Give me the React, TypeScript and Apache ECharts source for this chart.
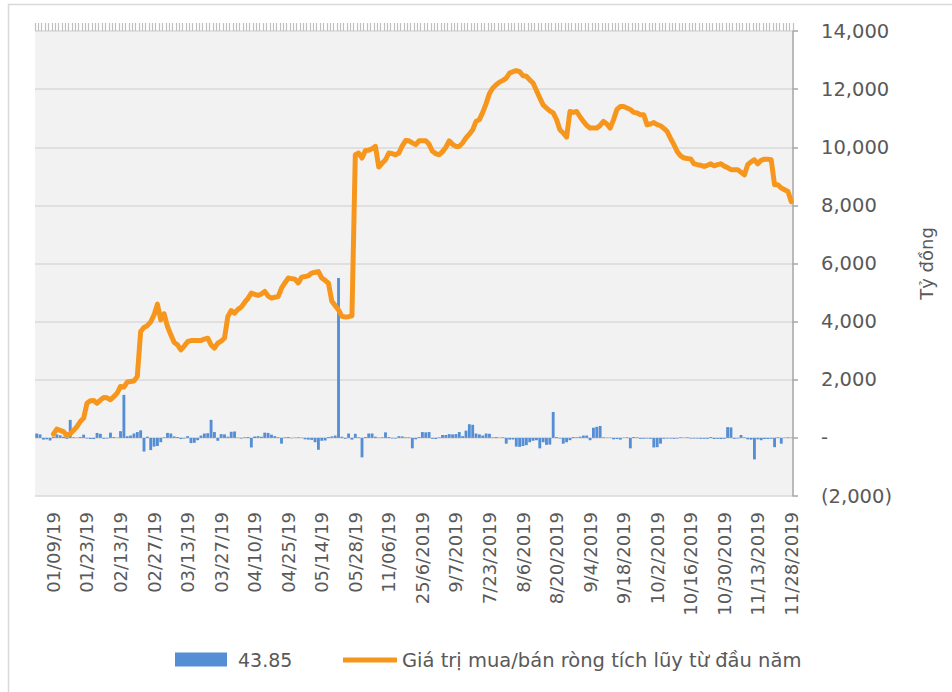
import React, { useEffect, useRef } from "react";
import * as echarts from "echarts";

const tickLabels = [
  "01/09/19", "01/23/19", "02/13/19", "02/27/19", "03/13/19", "03/27/19",
  "04/10/19", "04/25/19", "05/14/19", "05/28/19", "11/06/19", "25/6/2019",
  "9/7/2019", "7/23/2019", "8/6/2019", "8/20/2019", "9/4/2019", "9/18/2019",
  "10/2/2019", "10/16/2019", "10/30/2019", "11/13/2019", "11/28/2019",
];
const firstLabelIndex = 5;
const labelStep = 10;

// Daily net buy/sell value (tỷ đồng), one per trading day
const dailyValues = [
  150, 120, -60, -50, -90, 30, 120, 90, 40, -30,
  620, 20, 10, 30, 110, -20, -40, -40, 170, 140,
  -30, -20, 180, 30, 10, 230, 1480, 60, 80, 150,
  200, 260, -470, 40, -420, -300, -280, -150, 20, 170,
  150, 50, 30, -40, -20, 60, -180, -170, -80, 80,
  150, 160, 620, 200, -100, 130, 120, 40, 210, 220,
  10, -20, 20, 30, -330, 50, 60, 40, 180, 170,
  110, 60, 20, -200, 20, 30, -10, 10, 20, 10,
  -50, -60, -70, -150, -410, -100, -90, 30, 50, 80,
  5500, 40, -30, 150, -60, 140, 20, -670, 30, 150,
  150, 40, 10, 20, 190, 30, -20, -20, 60, 50,
  20, 20, -360, -50, 30, 200, 190, 200, -30, -40,
  20, 100, 100, 130, 120, 130, 200, 60, 250, 470,
  450, 150, 120, 80, 150, 140, 20, 30, 10, 20,
  -200, -60, -60, -300, -310, -280, -250, -150, -100, -80,
  -360, -150, -240, -230, 890, 30, -20, -200, -150, -80,
  30, 20, 40, 80, 80, -80, 350, 380, 410, 20,
  10, 10, -50, -40, -60, 10, 20, -360, 30, 20,
  -30, -30, -20, -30, -330, -320, -200, -30, -20, -20,
  -30, -20, 20, 10, 20, -20, -20, -20, -30, -30,
  -30, 30, -40, -30, -40, -30, 370, 360, -30, -20,
  100, 20, -50, -60, -740, -50, -80, -40, -40, -30,
  -320, 20, -200, 10, 20, 10,
];

// Cumulative net value since start of year (tỷ đồng)
const cumulativeValues = [
  null, null, null, null, null,
  130, 300, 260, 217, 80,
  140, 260, 390, 560, 680,
  1190, 1280, 1285, 1190, 1300,
  1390, 1380, 1310, 1420, 1540,
  1770, 1745, 1920, 1940, 1960,
  2110, 3660, 3800, 3860, 3990,
  4230, 4600, 4060, 4270, 3830,
  3550, 3280, 3200, 3030, 3160,
  3310, 3350, 3350, 3350, 3350,
  3400, 3430, 3200, 3090, 3260,
  3330, 3430, 4180, 4380, 4290,
  4420, 4500, 4660, 4800, 4980,
  4940, 4900, 4950, 5040, 4880,
  4810, 4840, 4860, 5150, 5330,
  5500, 5480, 5460, 5330, 5530,
  5550, 5580, 5670, 5700, 5720,
  5500, 5420, 5320, 4700, 4550,
  4400, 4180, 4160, 4170, 4200,
  9740, 9800, 9630, 9890, 9900,
  9950, 10030, 9320, 9450, 9570,
  9800, 9780, 9740, 9800, 10050,
  10230, 10220, 10150, 10090, 10220,
  10220, 10220, 10100, 9860, 9780,
  9740, 9850, 10000, 10220, 10100,
  10030, 10030, 10150, 10320, 10450,
  10600, 10890, 10950, 11200, 11500,
  11850, 12040, 12150, 12240, 12300,
  12380, 12550, 12600, 12640, 12600,
  12460, 12440, 12320, 12210, 11950,
  11700, 11460, 11350, 11250, 11180,
  10950, 10600, 10490, 10350, 11230,
  11200, 11230, 11050, 10890, 10750,
  10660, 10660, 10660, 10750, 10890,
  10800, 10660, 10950, 11300, 11400,
  11400, 11350, 11300, 11200, 11180,
  11120, 11120, 10770, 10800, 10850,
  10780, 10740, 10650, 10540, 10300,
  10090, 9850, 9700, 9630, 9610,
  9600, 9430, 9400, 9380, 9340,
  9380, 9430, 9360, 9400, 9430,
  9350, 9300, 9230, 9230, 9230,
  9140, 9050, 9400, 9500, 9570,
  9430, 9550, 9590, 9590, 9570,
  8710, 8710, 8600, 8540, 8480,
  8130,
];

const barName = "43.85";
const lineName = "Giá trị mua/bán ròng tích lũy từ đầu năm";
const yAxisName = "Tỷ đồng";

const categories = dailyValues.map((_, i) => {
  const k = (i - firstLabelIndex) / labelStep;
  return i >= firstLabelIndex && Number.isInteger(k) && k < tickLabels.length
    ? tickLabels[k]
    : "d" + i;
});

const FONT = "DejaVu Sans";
const TEXT = "#595959";

export default function App() {
  const ref = useRef<HTMLDivElement>(null);
  useEffect(() => {
    document.body.style.margin = "0";
    const chart = echarts.init(ref.current!, null, { renderer: "svg" });
    chart.setOption({
      animation: false,
      backgroundColor: "#ffffff",
      graphic: [
        {
          type: "rect",
          shape: { x: 8.5, y: 4.5, width: 960, height: 720 },
          style: { fill: "none", stroke: "#d9d9d9", lineWidth: 1.5 },
          silent: true,
        },
      ],
      grid: {
        left: 35,
        right: 159,
        top: 31,
        bottom: 196,
        show: true,
        backgroundColor: "#f2f2f2",
        borderWidth: 0,
      },
      legend: [
        {
          data: [barName],
          left: 175,
          top: 650,
          padding: 0,
          itemWidth: 52,
          itemHeight: 14,
          icon: "rect",
          textStyle: { fontFamily: FONT, fontSize: 19, color: TEXT, padding: [0, 0, 0, 6] },
        },
        {
          data: [lineName],
          left: 343,
          top: 650,
          padding: 0,
          itemWidth: 54,
          itemHeight: 5,
          icon: "rect",
          textStyle: { fontFamily: FONT, fontSize: 19.5, color: TEXT },
        },
      ],
      xAxis: [
        {
          type: "category",
          data: categories,
          boundaryGap: true,
          axisLine: { show: false, onZero: false },
          axisTick: { show: false },
          splitLine: { show: false },
          axisLabel: {
            interval: (i: number) =>
              i >= firstLabelIndex && (i - firstLabelIndex) % labelStep === 0,
            rotate: 90,
            margin: 16,
            fontFamily: FONT,
            fontSize: 18,
            color: TEXT,
          },
        },
        {
          type: "category",
          data: categories,
          position: "top",
          boundaryGap: true,
          axisLine: { show: true, onZero: false, lineStyle: { color: "rgba(0,0,0,0)" } },
          axisTick: {
            show: true,
            interval: 0,
            length: 8,
            lineStyle: { color: "#bfbfbf", width: 1.2 },
          },
          axisLabel: { show: false },
          splitLine: { show: false },
        },
      ],
      yAxis: {
        type: "value",
        position: "right",
        min: -2000,
        max: 14000,
        interval: 2000,
        name: yAxisName,
        nameLocation: "middle",
        nameRotate: 90,
        nameGap: 124,
        nameTextStyle: { fontFamily: FONT, fontSize: 18, color: TEXT },
        axisLine: { show: true, lineStyle: { color: "#a6a6a6", width: 1.5 } },
        axisTick: { show: true, length: 5, lineStyle: { color: "#a6a6a6", width: 1.5 } },
        splitLine: { show: true, lineStyle: { color: "#d9d9d9", width: 1.5 } },
        axisLabel: {
          margin: 28,
          fontFamily: FONT,
          fontSize: 19.5,
          color: TEXT,
          formatter: (v: number) =>
            v === 0
              ? "-"
              : v < 0
              ? "(" + Math.abs(v).toLocaleString("en-US") + ")"
              : v.toLocaleString("en-US"),
        },
      },
      series: [
        {
          name: barName,
          type: "bar",
          data: dailyValues,
          barCategoryGap: "15%",
          itemStyle: { color: "#558ed5" },
          z: 2,
        },
        {
          name: lineName,
          type: "line",
          data: cumulativeValues,
          showSymbol: false,
          symbol: "none",
          lineStyle: { color: "#f7961d", width: 5, cap: "round", join: "round" },
          itemStyle: { color: "#f7961d" },
          z: 3,
        },
      ],
    });
    return () => chart.dispose();
  }, []);
  return <div ref={ref} style={{ width: 952, height: 692 }} />;
}
